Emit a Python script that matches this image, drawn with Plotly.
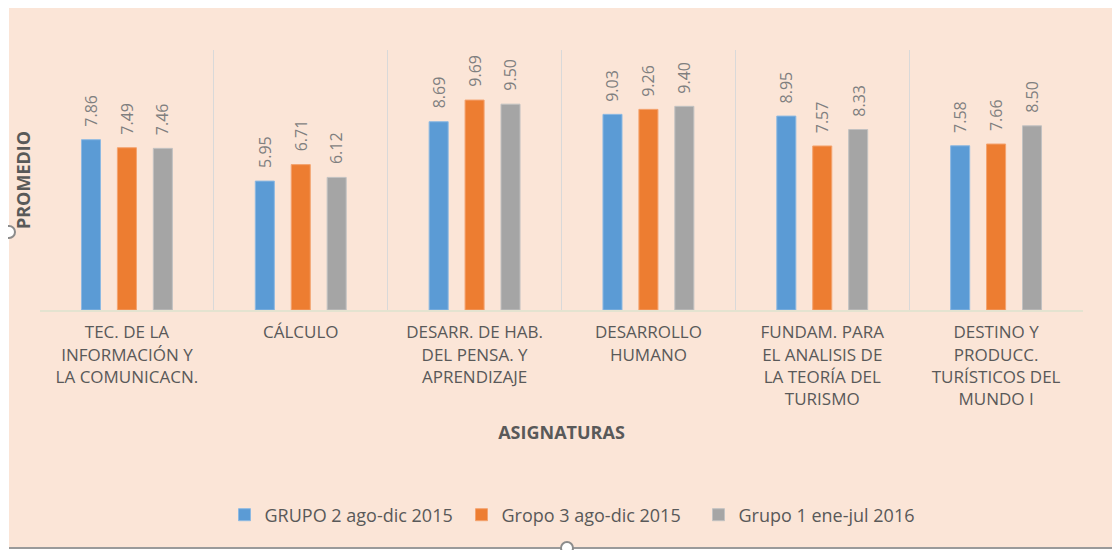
import plotly.graph_objects as go

categories = [
    "TEC. DE LA<br>INFORMACIÓN Y<br>LA COMUNICACN.",
    "CÁLCULO",
    "DESARR. DE HAB.<br>DEL PENSA. Y<br>APRENDIZAJE",
    "DESARROLLO<br>HUMANO",
    "FUNDAM. PARA<br>EL ANALISIS DE<br>LA TEORÍA DEL<br>TURISMO",
    "DESTINO Y<br>PRODUCC.<br>TURÍSTICOS DEL<br>MUNDO I",
]
series_names = ["GRUPO 2 ago-dic 2015", "Gropo 3 ago-dic 2015", "Grupo 1 ene-jul 2016"]
grupo2_2015 = [7.86, 5.95, 8.69, 9.03, 8.95, 7.58]
gropo3_2015 = [7.49, 6.71, 9.69, 9.26, 7.57, 7.66]
grupo1_2016 = [7.46, 6.12, 9.50, 9.40, 8.33, 8.50]
colors = ["#5B9BD5", "#ED7D31", "#A5A5A5"]
edge_colors = ["#8DB9E2", "#F4A36F", "#C2C2C2"]

# the page body has an 8px margin, so the figure sits at (8, 8) in the window
OFF = 8
W, H = 1112, 542
L, R, T = 40 - OFF, 37, 50 - OFF
B = H - (310 - OFF)
PW, PH = W - L - R, H - T - B
BARGAP = 0.38

def fx(page_px):
    return (page_px - OFF - L) / PW

def fy(page_py):
    return (H - B - (page_py - OFF)) / PH

BG = "#FBE5D7"
TXT = "#595959"

all_series = [grupo2_2015, gropo3_2015, grupo1_2016]
fig = go.Figure()
for name, vals, c, ec in zip(series_names, all_series, colors, edge_colors):
    fig.add_trace(go.Bar(
        x=categories, y=vals, name=name,
        marker=dict(color=c, line=dict(color=ec, width=1)),
    ))

# value labels: rotated text above each bar, placed at the bar's data position
slot = PW / len(categories) * (1 - BARGAP) / len(all_series)
annotations = []
for i, vals in enumerate(all_series):
    for cat, v in zip(categories, vals):
        annotations.append(dict(
            x=cat, y=v, xref="x", yref="y", text=f"{v:.2f}", showarrow=False,
            textangle=-90, xanchor="center", yanchor="bottom",
            xshift=(i - 1) * slot, yshift=11,
            font=dict(family="Open Sans", size=16, color="#7F7F7F"),
        ))

fig.update_layout(
    width=W, height=H,
    margin=dict(l=L, r=R, t=T, b=B, autoexpand=False),
    paper_bgcolor="white",
    plot_bgcolor="rgba(0,0,0,0)",
    barmode="group", bargap=BARGAP, bargroupgap=0.47,
    showlegend=True,
    annotations=annotations,
    legend=dict(orientation="h", x=fx(580), xanchor="center", y=fy(515), yanchor="middle",
                font=dict(family="Open Sans", size=18, color=TXT),
                bgcolor="rgba(0,0,0,0)", itemwidth=30,
                entrywidth=192, entrywidthmode="pixels"),
    xaxis=dict(
        type="category", tickson="boundaries", showgrid=True, gridcolor="#D9D9D9", gridwidth=1,
        showline=True, linecolor="#E4E3D0", linewidth=2, ticks="",
        tickfont=dict(family="Open Sans", size=17, color=TXT),
        tickangle=0, ticklabelstandoff=6,
        title=dict(text="<b>ASIGNATURAS</b>", font=dict(family="Open Sans", size=18, color=TXT), standoff=18),
    ),
    yaxis=dict(
        range=[0, 12], showticklabels=False, showgrid=False, zeroline=False, showline=False,
        title=dict(text="<b>PROMEDIO</b>", font=dict(family="Open Sans", size=18, color=TXT), standoff=3),
    ),
    shapes=[
        dict(type="rect", xref="paper", yref="paper", x0=fx(9), x1=fx(W + 20), y0=fy(547), y1=fy(5),
             fillcolor=BG, line=dict(width=0), layer="below"),
        dict(type="line", xref="paper", yref="paper", x0=fx(9), x1=fx(W + 20), y0=fy(548), y1=fy(548),
             line=dict(color="#9A9A9A", width=2), layer="above"),
        dict(type="circle", xref="paper", yref="paper", x0=fx(3), x1=fx(15), y0=fy(238), y1=fy(226),
             fillcolor="white", line=dict(color="#8C8C8C", width=2), layer="above"),
        dict(type="circle", xref="paper", yref="paper", x0=fx(561), x1=fx(573), y0=fy(554), y1=fy(542),
             fillcolor="white", line=dict(color="#8C8C8C", width=2), layer="above"),
    ],
)

fig.write_html("out.html")
